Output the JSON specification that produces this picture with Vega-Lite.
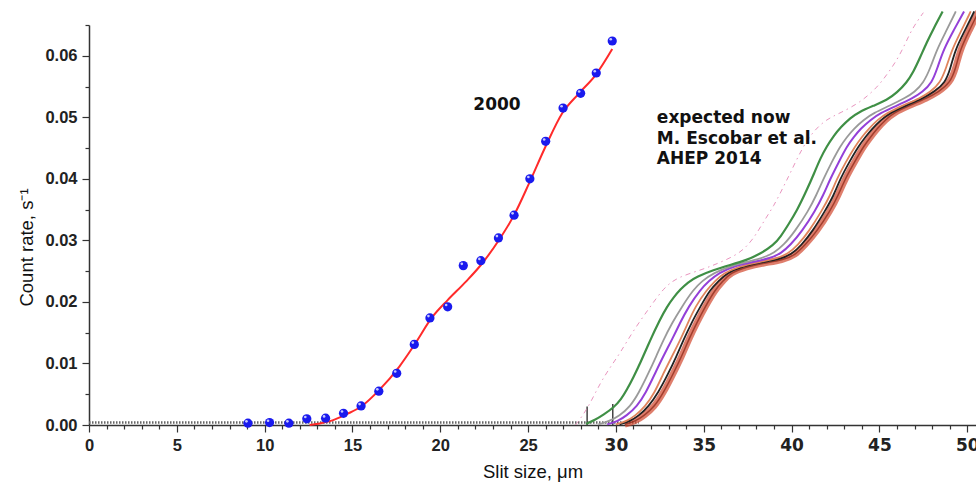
{
  "$schema": "https://vega.github.io/schema/vega-lite/v6.json",
  "width": 887,
  "height": 400,
  "autosize": {"type": "none"},
  "padding": {"left": 89, "top": 25, "right": 0, "bottom": 57},
  "background": "white",
  "config": {"view": {"stroke": null}},
  "datasets": {
    "baseline": [{"x": 0, "y": 0.0004}, {"x": 31.3, "y": 0.0004}],
    "drops": [{"x": 28.36, "y": 0, "y2": 0.003}, {"x": 29.82, "y": 0, "y2": 0.0034}],
    "measured": [
      {"x": 9.05, "y": 0.0003}, {"x": 10.28, "y": 0.0004}, {"x": 11.38, "y": 0.0003}, {"x": 12.4, "y": 0.001},
      {"x": 13.47, "y": 0.0011}, {"x": 14.49, "y": 0.0019}, {"x": 15.49, "y": 0.0031}, {"x": 16.5, "y": 0.0055},
      {"x": 17.52, "y": 0.0084}, {"x": 18.52, "y": 0.0131}, {"x": 19.41, "y": 0.0174}, {"x": 20.42, "y": 0.0192},
      {"x": 21.31, "y": 0.0259}, {"x": 22.31, "y": 0.0267}, {"x": 23.31, "y": 0.0304}, {"x": 24.2, "y": 0.0341},
      {"x": 25.1, "y": 0.04}, {"x": 26.0, "y": 0.0461}, {"x": 26.99, "y": 0.0515}, {"x": 27.99, "y": 0.0539},
      {"x": 28.88, "y": 0.0572}, {"x": 29.79, "y": 0.0624}
    ],
    "fit": [
      {"x": 12.56, "y": 0.0}, {"x": 13.2, "y": 0.0003}, {"x": 13.9, "y": 0.0008}, {"x": 14.7, "y": 0.0018},
      {"x": 15.5, "y": 0.003}, {"x": 16.53, "y": 0.0057}, {"x": 17.67, "y": 0.0095}, {"x": 18.52, "y": 0.013},
      {"x": 19.56, "y": 0.0176}, {"x": 20.42, "y": 0.0203}, {"x": 21.46, "y": 0.0233}, {"x": 22.31, "y": 0.026},
      {"x": 23.35, "y": 0.0301}, {"x": 24.2, "y": 0.0341}, {"x": 25.06, "y": 0.0393}, {"x": 26.0, "y": 0.0453},
      {"x": 26.95, "y": 0.0507}, {"x": 27.9, "y": 0.0539}, {"x": 28.85, "y": 0.0569}, {"x": 29.79, "y": 0.0611}
    ],
    "curves": [
      {"s": "pink", "x": 27.7, "y": 0.0}, {"s": "pink", "x": 28.1, "y": 0.0015}, {"s": "pink", "x": 28.53, "y": 0.0035},
      {"s": "pink", "x": 29.1, "y": 0.0068}, {"s": "pink", "x": 29.7, "y": 0.0095}, {"s": "pink", "x": 30.24, "y": 0.0117},
      {"s": "pink", "x": 31.0, "y": 0.0154}, {"s": "pink", "x": 31.95, "y": 0.0192}, {"s": "pink", "x": 32.7, "y": 0.0222},
      {"s": "pink", "x": 33.47, "y": 0.024}, {"s": "pink", "x": 34.98, "y": 0.0253}, {"s": "pink", "x": 36.0, "y": 0.0265},
      {"s": "pink", "x": 37.07, "y": 0.0279}, {"s": "pink", "x": 37.83, "y": 0.0302}, {"s": "pink", "x": 38.5, "y": 0.0335},
      {"s": "pink", "x": 38.97, "y": 0.0355}, {"s": "pink", "x": 39.5, "y": 0.0385}, {"s": "pink", "x": 39.92, "y": 0.0409},
      {"s": "pink", "x": 40.6, "y": 0.045}, {"s": "pink", "x": 41.25, "y": 0.0478}, {"s": "pink", "x": 42.0, "y": 0.0497},
      {"s": "pink", "x": 42.77, "y": 0.0507}, {"s": "pink", "x": 43.9, "y": 0.0524}, {"s": "pink", "x": 44.86, "y": 0.0548},
      {"s": "pink", "x": 45.5, "y": 0.0572}, {"s": "pink", "x": 46.18, "y": 0.0601}, {"s": "pink", "x": 46.75, "y": 0.0638},
      {"s": "pink", "x": 47.2, "y": 0.0658}, {"s": "pink", "x": 47.5, "y": 0.067},

      {"s": "green", "x": 28.3, "y": 0.0002}, {"s": "green", "x": 28.8, "y": 0.0008}, {"s": "green", "x": 29.3, "y": 0.0017},
      {"s": "green", "x": 29.86, "y": 0.0028}, {"s": "green", "x": 30.3, "y": 0.0042}, {"s": "green", "x": 30.62, "y": 0.0057},
      {"s": "green", "x": 31.0, "y": 0.0078}, {"s": "green", "x": 31.38, "y": 0.01}, {"s": "green", "x": 31.95, "y": 0.0138},
      {"s": "green", "x": 32.5, "y": 0.0171}, {"s": "green", "x": 32.9, "y": 0.0192}, {"s": "green", "x": 33.3, "y": 0.0208},
      {"s": "green", "x": 33.66, "y": 0.022}, {"s": "green", "x": 34.1, "y": 0.0232}, {"s": "green", "x": 34.6, "y": 0.0241},
      {"s": "green", "x": 35.55, "y": 0.0252}, {"s": "green", "x": 36.5, "y": 0.026}, {"s": "green", "x": 37.45, "y": 0.0268},
      {"s": "green", "x": 38.2, "y": 0.0278}, {"s": "green", "x": 38.97, "y": 0.0292}, {"s": "green", "x": 39.4, "y": 0.0307},
      {"s": "green", "x": 39.8, "y": 0.0325}, {"s": "green", "x": 40.3, "y": 0.0348}, {"s": "green", "x": 40.87, "y": 0.0382},
      {"s": "green", "x": 41.3, "y": 0.041}, {"s": "green", "x": 41.63, "y": 0.0433}, {"s": "green", "x": 42.01, "y": 0.0453},
      {"s": "green", "x": 42.4, "y": 0.047}, {"s": "green", "x": 42.8, "y": 0.0484}, {"s": "green", "x": 43.34, "y": 0.0499},
      {"s": "green", "x": 43.8, "y": 0.0508}, {"s": "green", "x": 44.67, "y": 0.0519}, {"s": "green", "x": 45.43, "y": 0.0528},
      {"s": "green", "x": 46.0, "y": 0.054}, {"s": "green", "x": 46.57, "y": 0.0557}, {"s": "green", "x": 46.94, "y": 0.0574},
      {"s": "green", "x": 47.3, "y": 0.0596}, {"s": "green", "x": 47.7, "y": 0.0622}, {"s": "green", "x": 48.1, "y": 0.0645},
      {"s": "green", "x": 48.6, "y": 0.0672},

      {"s": "gray", "x": 29.0, "y": 0.0001}, {"s": "gray", "x": 29.6, "y": 0.0006}, {"s": "gray", "x": 30.2, "y": 0.0015},
      {"s": "gray", "x": 30.81, "y": 0.003}, {"s": "gray", "x": 31.3, "y": 0.0052}, {"s": "gray", "x": 31.85, "y": 0.0084},
      {"s": "gray", "x": 32.3, "y": 0.0112}, {"s": "gray", "x": 32.7, "y": 0.0138}, {"s": "gray", "x": 33.2, "y": 0.0166},
      {"s": "gray", "x": 33.75, "y": 0.0192}, {"s": "gray", "x": 34.41, "y": 0.022}, {"s": "gray", "x": 34.9, "y": 0.0234},
      {"s": "gray", "x": 35.55, "y": 0.0247}, {"s": "gray", "x": 36.6, "y": 0.0259}, {"s": "gray", "x": 37.6, "y": 0.0266},
      {"s": "gray", "x": 38.5, "y": 0.0273}, {"s": "gray", "x": 39.0, "y": 0.028}, {"s": "gray", "x": 39.54, "y": 0.0292},
      {"s": "gray", "x": 40.2, "y": 0.0315}, {"s": "gray", "x": 40.96, "y": 0.0348}, {"s": "gray", "x": 41.4, "y": 0.0373},
      {"s": "gray", "x": 41.82, "y": 0.04}, {"s": "gray", "x": 42.3, "y": 0.0428}, {"s": "gray", "x": 42.77, "y": 0.0453},
      {"s": "gray", "x": 43.15, "y": 0.0468}, {"s": "gray", "x": 43.53, "y": 0.0481}, {"s": "gray", "x": 44.1, "y": 0.0496},
      {"s": "gray", "x": 44.67, "y": 0.0507}, {"s": "gray", "x": 45.6, "y": 0.0519}, {"s": "gray", "x": 46.5, "y": 0.0532},
      {"s": "gray", "x": 47.0, "y": 0.0541}, {"s": "gray", "x": 47.51, "y": 0.0556}, {"s": "gray", "x": 47.9, "y": 0.058},
      {"s": "gray", "x": 48.27, "y": 0.061}, {"s": "gray", "x": 48.8, "y": 0.064}, {"s": "gray", "x": 49.35, "y": 0.0672},

      {"s": "purple", "x": 29.5, "y": 0.0001}, {"s": "purple", "x": 30.1, "y": 0.0006}, {"s": "purple", "x": 30.6, "y": 0.0015},
      {"s": "purple", "x": 31.19, "y": 0.003}, {"s": "purple", "x": 31.7, "y": 0.0052}, {"s": "purple", "x": 32.23, "y": 0.0084},
      {"s": "purple", "x": 32.7, "y": 0.0112}, {"s": "purple", "x": 33.18, "y": 0.0138}, {"s": "purple", "x": 33.65, "y": 0.0166},
      {"s": "purple", "x": 34.13, "y": 0.0192}, {"s": "purple", "x": 34.8, "y": 0.022}, {"s": "purple", "x": 35.3, "y": 0.0234},
      {"s": "purple", "x": 35.84, "y": 0.0247}, {"s": "purple", "x": 36.79, "y": 0.0259}, {"s": "purple", "x": 37.8, "y": 0.0265},
      {"s": "purple", "x": 38.8, "y": 0.0271}, {"s": "purple", "x": 39.4, "y": 0.0279}, {"s": "purple", "x": 39.92, "y": 0.0292},
      {"s": "purple", "x": 40.6, "y": 0.0315}, {"s": "purple", "x": 41.34, "y": 0.0348}, {"s": "purple", "x": 41.8, "y": 0.0373},
      {"s": "purple", "x": 42.2, "y": 0.04}, {"s": "purple", "x": 42.7, "y": 0.0428}, {"s": "purple", "x": 43.15, "y": 0.0453},
      {"s": "purple", "x": 43.55, "y": 0.0468}, {"s": "purple", "x": 43.91, "y": 0.0481}, {"s": "purple", "x": 44.5, "y": 0.0496},
      {"s": "purple", "x": 45.05, "y": 0.0507}, {"s": "purple", "x": 46.0, "y": 0.0519}, {"s": "purple", "x": 46.9, "y": 0.0531},
      {"s": "purple", "x": 47.45, "y": 0.0541}, {"s": "purple", "x": 47.99, "y": 0.0556}, {"s": "purple", "x": 48.3, "y": 0.058},
      {"s": "purple", "x": 48.65, "y": 0.061}, {"s": "purple", "x": 49.2, "y": 0.064}, {"s": "purple", "x": 49.82, "y": 0.0672},

      {"s": "orange", "x": 30.0, "y": 0.0001}, {"s": "orange", "x": 30.6, "y": 0.0006}, {"s": "orange", "x": 31.1, "y": 0.0015},
      {"s": "orange", "x": 31.66, "y": 0.003}, {"s": "orange", "x": 32.2, "y": 0.0052}, {"s": "orange", "x": 32.7, "y": 0.0084},
      {"s": "orange", "x": 33.2, "y": 0.0112}, {"s": "orange", "x": 33.66, "y": 0.0138}, {"s": "orange", "x": 34.1, "y": 0.0166},
      {"s": "orange", "x": 34.51, "y": 0.0192}, {"s": "orange", "x": 35.18, "y": 0.022}, {"s": "orange", "x": 35.65, "y": 0.0234},
      {"s": "orange", "x": 36.12, "y": 0.0247}, {"s": "orange", "x": 37.07, "y": 0.0258}, {"s": "orange", "x": 38.0, "y": 0.0264},
      {"s": "orange", "x": 39.1, "y": 0.027}, {"s": "orange", "x": 39.8, "y": 0.0278}, {"s": "orange", "x": 40.35, "y": 0.0292},
      {"s": "orange", "x": 41.0, "y": 0.0315}, {"s": "orange", "x": 41.72, "y": 0.0348}, {"s": "orange", "x": 42.2, "y": 0.0373},
      {"s": "orange", "x": 42.58, "y": 0.04}, {"s": "orange", "x": 43.1, "y": 0.0428}, {"s": "orange", "x": 43.62, "y": 0.0453},
      {"s": "orange", "x": 44.0, "y": 0.0468}, {"s": "orange", "x": 44.38, "y": 0.0481}, {"s": "orange", "x": 44.9, "y": 0.0496},
      {"s": "orange", "x": 45.43, "y": 0.0507}, {"s": "orange", "x": 46.3, "y": 0.0519}, {"s": "orange", "x": 47.3, "y": 0.0531},
      {"s": "orange", "x": 47.9, "y": 0.0541}, {"s": "orange", "x": 48.46, "y": 0.0556}, {"s": "orange", "x": 48.8, "y": 0.058},
      {"s": "orange", "x": 49.13, "y": 0.061}, {"s": "orange", "x": 49.65, "y": 0.064}, {"s": "orange", "x": 50.2, "y": 0.0672},

      {"s": "black", "x": 30.2, "y": 0.0001}, {"s": "black", "x": 30.8, "y": 0.0006}, {"s": "black", "x": 31.3, "y": 0.0015},
      {"s": "black", "x": 31.85, "y": 0.003}, {"s": "black", "x": 32.4, "y": 0.0052}, {"s": "black", "x": 32.99, "y": 0.0084},
      {"s": "black", "x": 33.45, "y": 0.0112}, {"s": "black", "x": 33.84, "y": 0.0138}, {"s": "black", "x": 34.3, "y": 0.0166},
      {"s": "black", "x": 34.8, "y": 0.0192}, {"s": "black", "x": 35.36, "y": 0.022}, {"s": "black", "x": 35.85, "y": 0.0234},
      {"s": "black", "x": 36.31, "y": 0.0247}, {"s": "black", "x": 37.26, "y": 0.0258}, {"s": "black", "x": 38.2, "y": 0.0264},
      {"s": "black", "x": 39.3, "y": 0.0269}, {"s": "black", "x": 40.0, "y": 0.0277}, {"s": "black", "x": 40.55, "y": 0.0292},
      {"s": "black", "x": 41.2, "y": 0.0315}, {"s": "black", "x": 41.91, "y": 0.0348}, {"s": "black", "x": 42.4, "y": 0.0373},
      {"s": "black", "x": 42.77, "y": 0.04}, {"s": "black", "x": 43.3, "y": 0.0428}, {"s": "black", "x": 43.81, "y": 0.0453},
      {"s": "black", "x": 44.2, "y": 0.0468}, {"s": "black", "x": 44.57, "y": 0.0481}, {"s": "black", "x": 45.1, "y": 0.0496},
      {"s": "black", "x": 45.6, "y": 0.0507}, {"s": "black", "x": 46.5, "y": 0.0519}, {"s": "black", "x": 47.5, "y": 0.0531},
      {"s": "black", "x": 48.1, "y": 0.0541}, {"s": "black", "x": 48.75, "y": 0.0556}, {"s": "black", "x": 49.05, "y": 0.058},
      {"s": "black", "x": 49.32, "y": 0.061}, {"s": "black", "x": 49.85, "y": 0.064}, {"s": "black", "x": 50.4, "y": 0.0672},

      {"s": "red", "x": 30.5, "y": 0.0001}, {"s": "red", "x": 31.1, "y": 0.0006}, {"s": "red", "x": 31.6, "y": 0.0015},
      {"s": "red", "x": 32.2, "y": 0.003}, {"s": "red", "x": 32.7, "y": 0.0052}, {"s": "red", "x": 33.27, "y": 0.0084},
      {"s": "red", "x": 33.75, "y": 0.0112}, {"s": "red", "x": 34.13, "y": 0.0138}, {"s": "red", "x": 34.6, "y": 0.0166},
      {"s": "red", "x": 35.08, "y": 0.0192}, {"s": "red", "x": 35.65, "y": 0.022}, {"s": "red", "x": 36.1, "y": 0.0234},
      {"s": "red", "x": 36.5, "y": 0.0247}, {"s": "red", "x": 37.45, "y": 0.0257}, {"s": "red", "x": 38.4, "y": 0.0263},
      {"s": "red", "x": 39.5, "y": 0.0268}, {"s": "red", "x": 40.2, "y": 0.0276}, {"s": "red", "x": 40.75, "y": 0.0292},
      {"s": "red", "x": 41.45, "y": 0.0315}, {"s": "red", "x": 42.2, "y": 0.0348}, {"s": "red", "x": 42.65, "y": 0.0373},
      {"s": "red", "x": 43.05, "y": 0.04}, {"s": "red", "x": 43.6, "y": 0.0428}, {"s": "red", "x": 44.1, "y": 0.0453},
      {"s": "red", "x": 44.5, "y": 0.0468}, {"s": "red", "x": 44.85, "y": 0.0481}, {"s": "red", "x": 45.35, "y": 0.0496},
      {"s": "red", "x": 45.8, "y": 0.0507}, {"s": "red", "x": 46.7, "y": 0.0519}, {"s": "red", "x": 47.7, "y": 0.0531},
      {"s": "red", "x": 48.35, "y": 0.0541}, {"s": "red", "x": 49.03, "y": 0.0556}, {"s": "red", "x": 49.35, "y": 0.058},
      {"s": "red", "x": 49.6, "y": 0.061}, {"s": "red", "x": 50.1, "y": 0.064}, {"s": "red", "x": 50.65, "y": 0.0672}
    ],
    "notes": [
      {"label": "2000", "x": 23.23, "y": 0.052, "kind": "center"},
      {"label": "expected now", "x": 32.33, "y": 0.0499, "kind": "left"},
      {"label": "M. Escobar et al.", "x": 32.33, "y": 0.0465, "kind": "left"},
      {"label": "AHEP 2014", "x": 32.33, "y": 0.0433, "kind": "left"}
    ]
  },
  "encoding": {
    "x": {
      "field": "x",
      "type": "quantitative",
      "scale": {"domain": [0, 50.5], "nice": false, "zero": false},
      "axis": {
        "title": "Slit size, μm",
        "values": [0,1,2,3,4,5,6,7,8,9,10,11,12,13,14,15,16,17,18,19,20,21,22,23,24,25,26,27,28,29,30,31,32,33,34,35,36,37,38,39,40,41,42,43,44,45,46,47,48,49,50],
        "labelExpr": "datum.value % 5 === 0 ? datum.label : ''",
        "tickSize": {"condition": {"test": "datum.value % 5 === 0", "value": 7}, "value": 4},
        "labelFont": {"condition": {"test": "datum.value >= 30", "value": "DejaVu Sans"}, "value": "Liberation Sans"},
        "labelFontSize": {"condition": {"test": "datum.value >= 30", "value": 17}, "value": 16.5},
        "labelFontWeight": "bold",
        "labelColor": "#222",
        "labelPadding": 5,
        "labelOverlap": false,
        "labelFlush": false,
        "labelBound": false,
        "domainColor": "#333",
        "domainWidth": 1.5,
        "tickColor": "#333",
        "tickWidth": 1.2,
        "grid": false,
        "titleFont": "Liberation Sans",
        "titleFontSize": 18.5,
        "titleFontWeight": "normal",
        "titleColor": "#111",
        "titleBaseline": "middle",
        "titleY": 46
      }
    },
    "y": {
      "field": "y",
      "type": "quantitative",
      "scale": {"domain": [0, 0.065], "nice": false},
      "axis": {
        "title": "Count rate, s⁻¹",
        "values": [0, 0.005, 0.01, 0.015, 0.02, 0.025, 0.03, 0.035, 0.04, 0.045, 0.05, 0.055, 0.06, 0.065],
        "format": ".2f",
        "labelExpr": "round(datum.value * 1000) % 10 === 0 ? datum.label : ''",
        "tickSize": {"condition": {"test": "round(datum.value * 1000) % 10 === 0", "value": 7}, "value": 4},
        "labelFont": "Liberation Sans",
        "labelFontSize": 16.5,
        "labelFontWeight": "bold",
        "labelColor": "#222",
        "labelPadding": 5,
        "labelOverlap": false,
        "labelFlush": false,
        "labelBound": false,
        "domainColor": "#333",
        "domainWidth": 1.5,
        "tickColor": "#333",
        "tickWidth": 1.2,
        "grid": false,
        "titleFont": "Liberation Sans",
        "titleFontSize": 18.5,
        "titleFontWeight": "normal",
        "titleColor": "#111",
        "titleBaseline": "middle",
        "titleX": -63,
        "titleY": 222
      }
    }
  },
  "layer": [
    {
      "data": {"name": "baseline"},
      "mark": {"type": "line", "color": "#666", "strokeWidth": 2.5, "strokeDash": [1.5, 1.5]}
    },
    {
      "data": {"name": "drops"},
      "mark": {"type": "rule", "color": "#444", "strokeWidth": 1.5},
      "encoding": {"y2": {"field": "y2"}}
    },
    {
      "data": {"name": "curves"},
      "transform": [{"filter": "datum.s === 'pink'"}],
      "mark": {"type": "line", "interpolate": "basis", "color": "#e070a8", "strokeWidth": 1, "opacity": 0.75, "strokeDash": [5, 4, 1.5, 4]}
    },
    {
      "data": {"name": "curves"},
      "transform": [{"filter": "datum.s === 'red'"}],
      "mark": {"type": "line", "interpolate": "basis", "color": "#d2472e", "strokeWidth": 6.5, "opacity": 0.7}
    },
    {
      "data": {"name": "curves"},
      "transform": [{"filter": "datum.s === 'red'"}],
      "mark": {"type": "line", "interpolate": "basis", "color": "#8c2818", "strokeWidth": 1.5, "opacity": 0.75}
    },
    {
      "data": {"name": "curves"},
      "transform": [{"filter": "datum.s === 'black'"}],
      "mark": {"type": "line", "interpolate": "basis", "color": "#222222", "strokeWidth": 1.8}
    },
    {
      "data": {"name": "curves"},
      "transform": [{"filter": "datum.s === 'orange'"}],
      "mark": {"type": "line", "interpolate": "basis", "color": "#e0845c", "strokeWidth": 1.8}
    },
    {
      "data": {"name": "curves"},
      "transform": [{"filter": "datum.s === 'purple'"}],
      "mark": {"type": "line", "interpolate": "basis", "color": "#9440d8", "strokeWidth": 2}
    },
    {
      "data": {"name": "curves"},
      "transform": [{"filter": "datum.s === 'gray'"}],
      "mark": {"type": "line", "interpolate": "basis", "color": "#9a9a9a", "strokeWidth": 1.8}
    },
    {
      "data": {"name": "curves"},
      "transform": [{"filter": "datum.s === 'green'"}],
      "mark": {"type": "line", "interpolate": "basis", "color": "#3f8f45", "strokeWidth": 2.2}
    },
    {
      "data": {"name": "fit"},
      "mark": {"type": "line", "interpolate": "monotone", "color": "#ff2a2a", "strokeWidth": 2}
    },
    {
      "data": {"name": "measured"},
      "mark": {"type": "point", "shape": "circle", "filled": true, "color": "#1a1aee", "size": 85, "opacity": 1}
    },
    {
      "data": {"name": "measured"},
      "mark": {"type": "point", "shape": "circle", "filled": true, "color": "#d8dcff", "size": 7, "opacity": 0.9, "xOffset": -1.5, "yOffset": -1.8}
    },
    {
      "data": {"name": "notes"},
      "transform": [{"filter": "datum.kind === 'center'"}],
      "mark": {"type": "text", "font": "DejaVu Sans", "fontSize": 17, "fontWeight": "bold", "color": "#111", "align": "center", "baseline": "middle"},
      "encoding": {"text": {"field": "label"}}
    },
    {
      "data": {"name": "notes"},
      "transform": [{"filter": "datum.kind === 'left'"}],
      "mark": {"type": "text", "font": "DejaVu Sans", "fontSize": 17, "fontWeight": "bold", "color": "#111", "align": "left", "baseline": "middle"},
      "encoding": {"text": {"field": "label"}}
    }
  ]
}
